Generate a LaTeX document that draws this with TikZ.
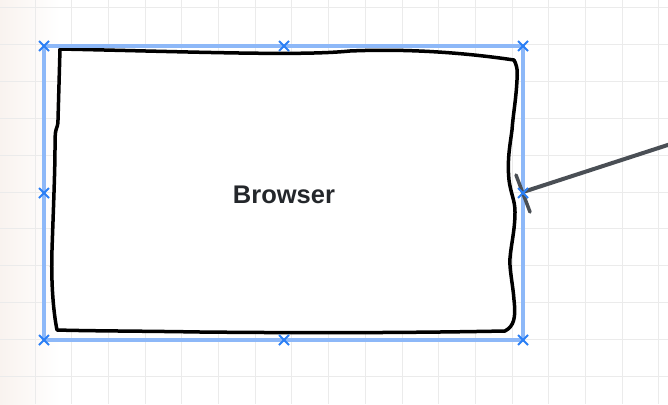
\documentclass[tikz,border=0pt]{standalone}
\usepackage{fontspec}
\setmainfont{Liberation Sans}
\definecolor{gridc}{HTML}{EBEBEB}
\definecolor{selc}{HTML}{8DB8F8}
\definecolor{markc}{HTML}{2B7FF5}
\definecolor{linec}{HTML}{4A4F55}
\definecolor{txtc}{HTML}{24272B}
\definecolor{pinkc}{HTML}{F9F3EF}
\tikzset{
  selbox/.style={draw=selc, line width=3.5pt},
  handbox/.style={draw=black, line width=3.5pt, fill=white, line join=round},
  marker/.style={draw=markc, line width=2pt},
  conn/.style={draw=linec, line width=4pt, line cap=round},
  label/.style={font=\fontsize{25.5}{30}\selectfont\bfseries, text=txtc, inner sep=0pt}
}
\begin{document}
\begin{tikzpicture}[x=1pt,y=-1pt]
\useasboundingbox (0,0) rectangle (668,404);
\fill[white] (0,0) rectangle (668,404);
\shade[left color=pinkc, right color=white] (0,0) rectangle (60,404);
% grid
\foreach \i in {0,...,17} {\draw[gridc, line width=1pt] ({35+36.7*\i},0) -- ({35+36.7*\i},404);}
\foreach \j in {0,...,10} {\draw[gridc, line width=1pt] (0,{8+36.8*\j}) -- (668,{8+36.8*\j});}
% connector
\coordinate (src) at (523,192);
\coordinate (far) at (680,141);
\draw[conn] (src) -- (far);
% hand-drawn rectangle
\path[handbox] (60,49) .. controls (200,52) and (300,56) .. (350,51)
  .. controls (420,48) and (480,55) .. (514,60)
  .. controls (516,64) and (518,68) .. (517,80)
  .. controls (516,100) and (513,115) .. (512,130)
  .. controls (510,145) and (507,160) .. (509,180)
  .. controls (511,195) and (515,200) .. (515,212)
  .. controls (515,230) and (511,245) .. (510,258)
  .. controls (509,268) and (513,285) .. (514,300)
  .. controls (516,318) and (514,326) .. (505,331)
  .. controls (400,333) and (300,333) .. (200,332)
  .. controls (140,331) and (90,331) .. (57,330)
  .. controls (53,310) and (51,280) .. (52,250)
  .. controls (53,220) and (55,170) .. (55,150)
  .. controls (55,140) and (55,133) .. (56,130)
  .. controls (57,127) and (58,125) .. (58,120)
  -- cycle;
% selection
\draw[selbox] (44,46) rectangle (523,340);
\node[label] (browser) at (284,195) {Browser};
% tick at connector start
\draw[conn, line width=3.5pt] (516,175) -- (530,212);
% markers
\foreach \mx/\my in {44/46,284/46,523/46,44/193,523/193,44/340,284/340,523/340} {
  \draw[marker] (\mx-5,\my-5) -- (\mx+5,\my+5) (\mx-5,\my+5) -- (\mx+5,\my-5);
}
\end{tikzpicture}
\end{document}
